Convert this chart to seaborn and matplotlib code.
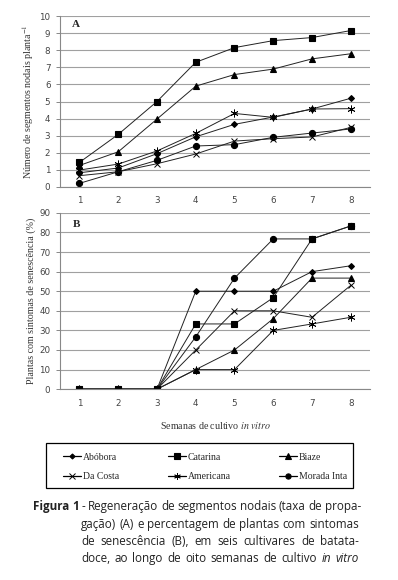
# Regeneração de segmentos nodais (A) e senescência (B) em seis cultivares de batata-doce
import numpy as np
import pandas as pd
import seaborn as sns
import matplotlib.pyplot as plt
from matplotlib.patches import Rectangle

semanas = [1, 2, 3, 4, 5, 6, 7, 8]
cultivares = ['Abóbora', 'Catarina', 'Biaze', 'Da Costa', 'Americana', 'Morada Inta']

# (A) número de segmentos nodais por planta
abobora_a = [0.82, 1.10, 1.94, 2.93, 3.66, 4.09, 4.56, 5.19]
catarina_a = [1.43, 3.07, 5.00, 7.30, 8.16, 8.57, 8.75, 9.16]
biaze_a = [1.25, 2.05, 3.97, 5.90, 6.58, 6.90, 7.50, 7.80]
dacosta_a = [0.65, 0.88, 1.35, 1.92, 2.68, 2.82, 2.92, 3.48]
americana_a = [0.98, 1.33, 2.10, 3.13, 4.30, 4.07, 4.56, 4.58]
moradainta_a = [0.20, 0.88, 1.55, 2.39, 2.47, 2.90, 3.15, 3.39]

# (B) plantas com sintomas de senescência (%)
abobora_b = [0, 0, 0, 50.0, 50.0, 50.0, 60.0, 63.0]
catarina_b = [0, 0, 0, 33.3, 33.3, 46.7, 76.7, 83.3]
biaze_b = [0, 0, 0, 10.0, 20.0, 36.0, 56.7, 56.7]
dacosta_b = [0, 0, 0, 20.0, 40.0, 40.0, 36.7, 53.0]
americana_b = [0, 0, 0, 10.0, 10.0, 30.0, 33.3, 36.7]
moradainta_b = [0, 0, 0, 26.7, 56.7, 76.7, 76.7, 83.3]

marcadores = {'Abóbora': 'D', 'Catarina': 's', 'Biaze': '^',
              'Da Costa': 'x', 'Americana': (6, 2, 0), 'Morada Inta': 'o'}
tamanhos = {'Abóbora': 3.0, 'Catarina': 4.6, 'Biaze': 4.4,
            'Da Costa': 4.6, 'Americana': 5.6, 'Morada Inta': 4.4}
bordas = {'Abóbora': 0.8, 'Catarina': 0.8, 'Biaze': 0.8,
          'Da Costa': 0.7, 'Americana': 0.6, 'Morada Inta': 0.8}


def monta_df(series):
    linhas = []
    for nome, valores in zip(cultivares, series):
        for s, v in zip(semanas, valores):
            linhas.append({'semana': s, 'valor': v, 'cultivar': nome})
    return pd.DataFrame(linhas)


df_a = monta_df([abobora_a, catarina_a, biaze_a, dacosta_a, americana_a, moradainta_a])
df_b = monta_df([abobora_b, catarina_b, biaze_b, dacosta_b, americana_b, moradainta_b])

sns.set_style('white')
plt.rcParams['font.family'] = ['Liberation Serif', 'DejaVu Serif']
plt.rcParams['mathtext.fontset'] = 'stix'

fig = plt.figure(figsize=(3.98, 5.8), dpi=100)
ax_a = fig.add_axes([0.151, 0.678, 0.779, 0.294])
ax_b = fig.add_axes([0.151, 0.329, 0.779, 0.304])

# ordem de desenho: Morada Inta por baixo de Catarina no painel B
ordem = ['Morada Inta', 'Abóbora', 'Da Costa', 'Americana', 'Biaze', 'Catarina']


def desenha(ax, df, ymax, passo, ylabel, letra, yletra):
    for nome in ordem:
        sub = df[df['cultivar'] == nome]
        sns.lineplot(data=sub, x='semana', y='valor', ax=ax, color='#222222',
                     linewidth=0.7, marker=marcadores[nome], markersize=tamanhos[nome],
                     markerfacecolor='black', markeredgecolor='black',
                     markeredgewidth=bordas[nome], legend=False)
    ax.set_xlim(0.5, 8.5)
    ax.set_ylim(0, ymax)
    ax.set_yticks(np.arange(0, ymax + 0.01, passo))
    ax.set_xticks(semanas)
    ax.set_xticks(np.arange(0.5, 8.6, 1), minor=True)
    ax.tick_params(axis='x', which='major', length=0, pad=7)
    ax.tick_params(axis='x', which='minor', length=3, color='#888888', width=0.7)
    ax.tick_params(axis='y', length=3, color='#888888', width=0.7, pad=4, left=True)
    for lab in ax.get_xticklabels() + ax.get_yticklabels():
        lab.set_fontfamily('DejaVu Sans')
        lab.set_fontsize(6.3)
        lab.set_color('#444444')
    ax.grid(axis='y', color='#a0a0a0', linewidth=0.8)
    ax.set_axisbelow(True)
    for lado in ['top', 'right']:
        ax.spines[lado].set_visible(False)
    for lado in ['left', 'bottom']:
        ax.spines[lado].set_color('#888888')
        ax.spines[lado].set_linewidth(0.8)
    ax.set_xlabel('')
    ax.set_ylabel(ylabel, fontsize=7.2, color='#333333', labelpad=2)
    ax.text(0.92, yletra, letra, fontsize=8, fontweight='bold', ha='center', va='center')


desenha(ax_a, df_a, 10, 1, 'Número de segmentos nodais planta$^{-1}$', 'A', 9.5)
desenha(ax_b, df_b, 90, 10, 'Plantas com sintomas de senescência (%)', 'B', 84)

ax_b.set_xlabel('Semanas de cultivo $\\it{in\\ vitro}$', fontsize=7.2,
                color='#333333', labelpad=9)

# legenda em linhas (Abóbora, Catarina, Biaze / Da Costa, Americana, Morada Inta)
ordem_leg = ['Abóbora', 'Da Costa', 'Catarina', 'Americana', 'Biaze', 'Morada Inta']
handles = [plt.Line2D([], [], color='black', linewidth=0.9, marker=marcadores[n],
                      markersize=tamanhos[n] * 0.85, markerfacecolor='black',
                      markeredgecolor='black', markeredgewidth=bordas[n])
           for n in ordem_leg]
W, H = 398, 580
leg = fig.legend(handles, ordem_leg, ncol=3, loc='center',
                 bbox_to_anchor=(63 / W, 1 - 477 / H, (347 - 63) / W, 20 / H),
                 mode='expand', fontsize=7, frameon=False,
                 handlelength=1.9, handletextpad=0.15, columnspacing=1.0,
                 labelspacing=1.05, borderpad=0, borderaxespad=0)
fig.patches.append(Rectangle((46 / W, 1 - 488 / H), (353 - 46) / W, 45 / H,
                             transform=fig.transFigure, fill=False,
                             edgecolor='black', linewidth=0.9))

# legenda da figura, com alinhamento justificado
fonte_cap = ['Open Sans', 'DejaVu Sans']
tam_cap = 8.4
cor_cap = '#222222'
fig.canvas.draw()
rend = fig.canvas.get_renderer()


def largura(txt, **kw):
    t = fig.text(0, 0, txt, fontsize=tam_cap, family=fonte_cap, **kw)
    w = t.get_window_extent(rend).width
    t.remove()
    return w


def linha_justificada(palavras, x_ini, x_fim, y):
    larguras = [largura(p, **kw) for p, kw in palavras]
    folga = (x_fim - x_ini - sum(larguras)) / (len(palavras) - 1)
    x = x_ini
    for (p, kw), w in zip(palavras, larguras):
        fig.text(x / W, 1 - y / H, p, fontsize=tam_cap, family=fonte_cap,
                 va='baseline', color=cor_cap, **kw)
        x += w + folga


def palavras_de(frase, **kw):
    return [(p, kw) for p in frase.split()]


bold = {'fontweight': 'bold'}
ital = {'style': 'italic'}
linha_justificada([('Figura', bold), ('1', bold)]
                  + palavras_de('- Regeneração de segmentos nodais (taxa de propa-'),
                  33, 361, 510)
linha_justificada(palavras_de('gação) (A) e percentagem de plantas com sintomas'),
                  81, 359, 528)
linha_justificada(palavras_de('de senescência (B), em seis cultivares de batata-'),
                  81, 359, 545)
linha_justificada(palavras_de('doce, ao longo de oito semanas de cultivo')
                  + palavras_de('in vitro', **ital), 81, 359, 562)

fig.savefig('out.png', dpi=100)
